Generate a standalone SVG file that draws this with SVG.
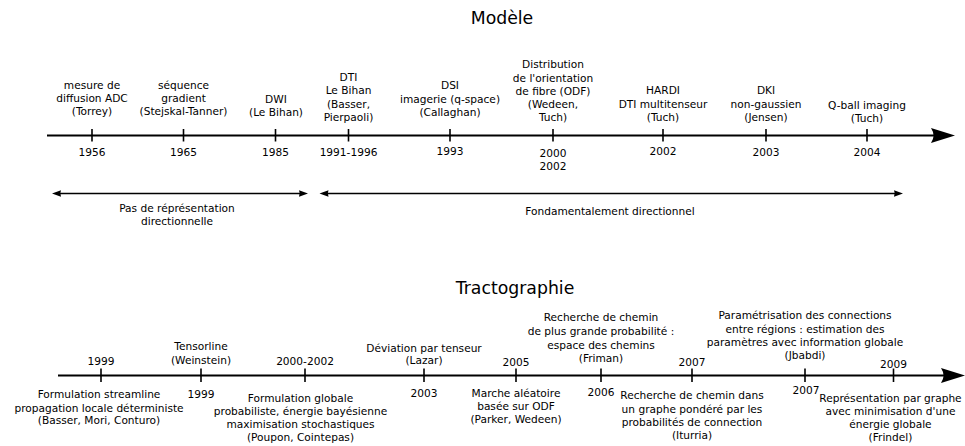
<svg xmlns="http://www.w3.org/2000/svg" width="965" height="446" viewBox="0 0 965 446">
<style>
text{font-family:"DejaVu Sans","Noto Sans",sans-serif;font-size:10.6px;fill:#000;text-anchor:middle}
.title{font-size:17.3px}
.tick{stroke:#000;stroke-width:1.6}
.axis{stroke:#000;stroke-width:2;fill:none}
.span{stroke:#000;stroke-width:1.4;fill:none}
</style>
<defs>
<marker id="bigArrow" markerUnits="userSpaceOnUse" markerWidth="30" markerHeight="20" viewBox="-10 -10 30 20" refX="0" refY="0" orient="auto" overflow="visible">
<path d="M16,0 L-8,-7.5 Q-3,0 -8,7.5 Z" fill="#000"/>
</marker>
<marker id="smallEnd" markerUnits="userSpaceOnUse" markerWidth="12" markerHeight="10" viewBox="-6 -5 12 10" refX="0" refY="0" orient="auto" overflow="visible">
<path d="M4,0 L-5,-3.2 Q-3.5,0 -5,3.2 Z" fill="#000"/>
</marker>
<marker id="smallStart" markerUnits="userSpaceOnUse" markerWidth="12" markerHeight="10" viewBox="-6 -5 12 10" refX="0" refY="0" orient="auto-start-reverse" overflow="visible">
<path d="M4,0 L-5,-3.2 Q-3.5,0 -5,3.2 Z" fill="#000"/>
</marker>
</defs>

<g id="connectors">
<line class="axis" x1="47" y1="135.5" x2="939" y2="135.5" marker-end="url(#bigArrow)"/>
<line class="span" x1="56" y1="193.5" x2="304" y2="193.5" marker-start="url(#smallStart)" marker-end="url(#smallEnd)"/>
<line class="span" x1="323.5" y1="193.5" x2="899" y2="193.5" marker-start="url(#smallStart)" marker-end="url(#smallEnd)"/>
<line class="axis" x1="58" y1="375.5" x2="949" y2="375.5" marker-end="url(#bigArrow)"/>
</g>

<g id="title-modele"><text class="title" x="502" y="24">Modèle</text></g>
<g id="title-tracto"><text class="title" x="515" y="294">Tractographie</text></g>

<g id="m1956">
<line class="tick" x1="92" y1="129" x2="92" y2="141.5"/>
<text x="92" y="88.5">mesure de</text>
<text x="92" y="101.5">diffusion ADC</text>
<text x="92" y="114.5">(Torrey)</text>
<text x="92" y="155.5">1956</text>
</g>
<g id="m1965">
<line class="tick" x1="183.5" y1="129" x2="183.5" y2="141.5"/>
<text x="183.5" y="88.5">séquence</text>
<text x="183.5" y="101.5">gradient</text>
<text x="183.5" y="114.5">(Stejskal-Tanner)</text>
<text x="183.5" y="155.5">1965</text>
</g>
<g id="m1985">
<line class="tick" x1="275.5" y1="129" x2="275.5" y2="141.5"/>
<text x="276" y="103">DWI</text>
<text x="276" y="116">(Le Bihan)</text>
<text x="275.5" y="155.5">1985</text>
</g>
<g id="m1991">
<line class="tick" x1="348.5" y1="129" x2="348.5" y2="141.5"/>
<text x="348.5" y="81">DTI</text>
<text x="348.5" y="94.3">Le Bihan</text>
<text x="348.5" y="107.6">(Basser,</text>
<text x="348.5" y="121">Pierpaoli)</text>
<text x="348.5" y="155.5">1991-1996</text>
</g>
<g id="m1993">
<line class="tick" x1="450" y1="129" x2="450" y2="141.5"/>
<text x="450" y="89">DSI</text>
<text x="450" y="102.5">imagerie (q-space)</text>
<text x="450" y="115.5">(Callaghan)</text>
<text x="450" y="154.5">1993</text>
</g>
<g id="m2000">
<line class="tick" x1="553" y1="129" x2="553" y2="141.5"/>
<text x="553" y="68.3">Distribution</text>
<text x="553" y="81.5">de l'orientation</text>
<text x="553" y="94.8">de fibre (ODF)</text>
<text x="553" y="108">(Wedeen,</text>
<text x="553" y="121.3">Tuch)</text>
<text x="553" y="156.5">2000</text>
<text x="553" y="169.8">2002</text>
</g>
<g id="m2002">
<line class="tick" x1="663" y1="129" x2="663" y2="141.5"/>
<text x="663" y="94">HARDI</text>
<text x="663" y="107.5">DTI multitenseur</text>
<text x="663" y="120.8">(Tuch)</text>
<text x="663" y="154.5">2002</text>
</g>
<g id="m2003">
<line class="tick" x1="766" y1="129" x2="766" y2="141.5"/>
<text x="766" y="94">DKI</text>
<text x="766" y="107.5">non-gaussien</text>
<text x="766" y="120.8">(Jensen)</text>
<text x="766" y="155.5">2003</text>
</g>
<g id="m2004">
<line class="tick" x1="867" y1="129" x2="867" y2="141.5"/>
<text x="867" y="108.8">Q-ball imaging</text>
<text x="867" y="122">(Tuch)</text>
<text x="867" y="155.5">2004</text>
</g>

<g id="span-nondir">
<text x="177" y="211.5">Pas de réprésentation</text>
<text x="177" y="224.5">directionnelle</text>
</g>
<g id="span-dir">
<text x="610" y="215">Fondamentalement directionnel</text>
</g>

<g id="t1999a">
<line class="tick" x1="101" y1="368.5" x2="101" y2="382"/>
<text x="101" y="365">1999</text>
<text x="99" y="398">Formulation streamline</text>
<text x="99" y="411.5">propagation locale déterministe</text>
<text x="99" y="424">(Basser, Mori, Conturo)</text>
</g>
<g id="t1999b">
<line class="tick" x1="201" y1="368.5" x2="201" y2="382"/>
<text x="201" y="350">Tensorline</text>
<text x="201" y="364">(Weinstein)</text>
<text x="201" y="398">1999</text>
</g>
<g id="t2000">
<line class="tick" x1="305" y1="368.5" x2="305" y2="382"/>
<text x="305" y="365">2000-2002</text>
<text x="300.5" y="401.7">Formulation globale</text>
<text x="300.5" y="415">probabiliste, énergie bayésienne</text>
<text x="300.5" y="428.3">maximisation stochastiques</text>
<text x="300.5" y="440.5">(Poupon, Cointepas)</text>
</g>
<g id="t2003">
<line class="tick" x1="424" y1="368.5" x2="424" y2="382"/>
<text x="424" y="351.7">Déviation par tenseur</text>
<text x="424" y="364.3">(Lazar)</text>
<text x="424" y="396.5">2003</text>
</g>
<g id="t2005">
<line class="tick" x1="516" y1="368.5" x2="516" y2="382"/>
<text x="516" y="365.5">2005</text>
<text x="516" y="396.7">Marche aléatoire</text>
<text x="516" y="410">basée sur ODF</text>
<text x="516" y="423.3">(Parker, Wedeen)</text>
</g>
<g id="t2006">
<line class="tick" x1="601" y1="368.5" x2="601" y2="382"/>
<text x="601" y="321">Recherche de chemin</text>
<text x="601" y="335">de plus grande probabilité :</text>
<text x="601" y="348.7">espace des chemins</text>
<text x="601" y="361.5">(Friman)</text>
<text x="601" y="396.3">2006</text>
</g>
<g id="t2007a">
<line class="tick" x1="692" y1="368.5" x2="692" y2="382"/>
<text x="692" y="366">2007</text>
<text x="692" y="399.3">Recherche de chemin dans</text>
<text x="692" y="412.7">un graphe pondéré par les</text>
<text x="692" y="426">probabilités de connection</text>
<text x="692" y="439.3">(Iturria)</text>
</g>
<g id="t2007b">
<line class="tick" x1="805" y1="368.5" x2="805" y2="382"/>
<text x="805" y="319.3">Paramétrisation des connections</text>
<text x="805" y="332.7">entre régions : estimation des</text>
<text x="805" y="346">paramètres avec information globale</text>
<text x="805" y="359">(Jbabdi)</text>
<text x="806" y="394.3">2007</text>
</g>
<g id="t2009">
<line class="tick" x1="893.5" y1="368.5" x2="893.5" y2="382"/>
<text x="893.5" y="367.5">2009</text>
<text x="890.5" y="401.7">Représentation par graphe</text>
<text x="890.5" y="415">avec minimisation d'une</text>
<text x="890.5" y="428.3">énergie globale</text>
<text x="890.5" y="441">(Frindel)</text>
</g>
</svg>
